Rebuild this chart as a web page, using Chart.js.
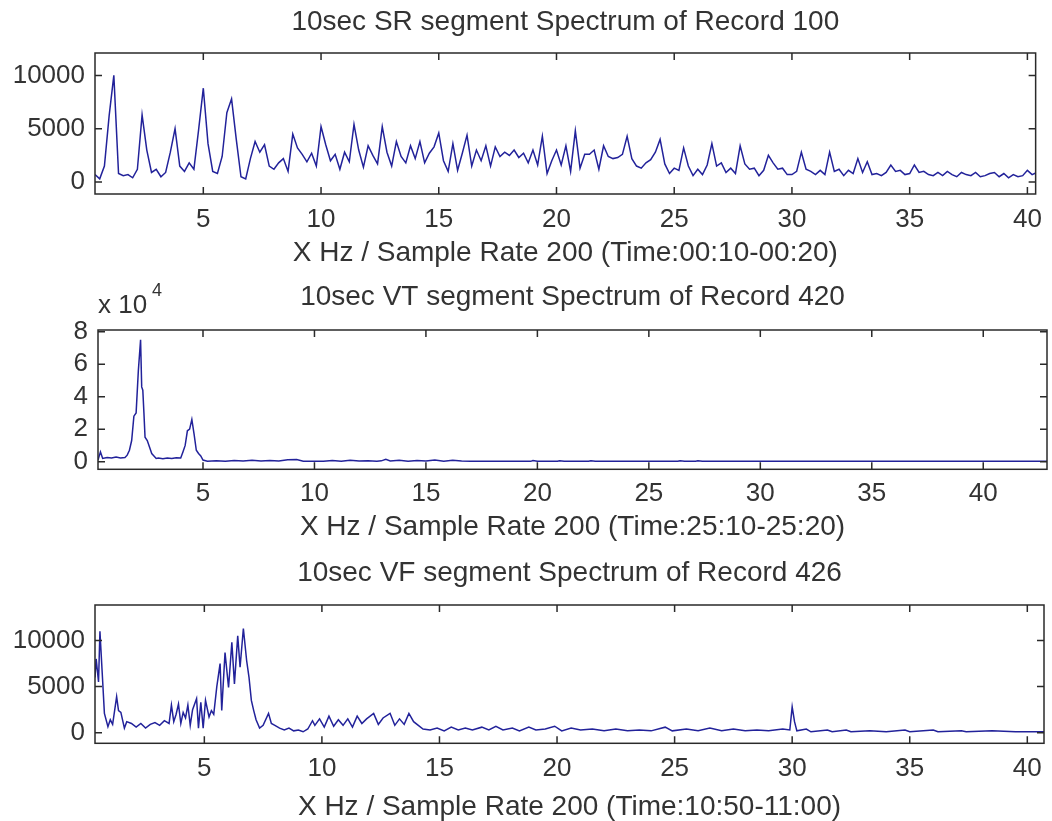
<!DOCTYPE html>
<html lang="en">
<head>
<meta charset="UTF-8">
<title>10sec segment spectra of records 100, 420, 426</title>
<script src="https://cdn.jsdelivr.net/npm/chart.js"></script>
<style>
  body { margin: 0; background: #fff; width: 1052px; height: 821px; position: relative; overflow: hidden; }
  canvas { position: absolute; left: 0; }
</style>
</head>
<body>
<canvas id="srChart" width="1052" height="275" style="top:0px"></canvas>
<canvas id="vtChart" width="1052" height="270" style="top:275px"></canvas>
<canvas id="vfChart" width="1052" height="276" style="top:545px"></canvas>
<script>
// --- data ---
// record 100 (SR): amplitude per 0.2 Hz bin, first bin at 0.4 Hz
const srStartHz = 0.4;
const srStepHz = 0.2;
const srAmp = [
  700, 300, 1500, 6200, 10000, 800, 600, 700, 400, 1200,
  6300, 3000, 900, 1200, 500, 900, 2800, 5000, 1500, 1000,
  1800, 1200, 4900, 8800, 3600, 1000, 800, 2400, 6500, 7800,
  4000, 500, 300, 2200, 3800, 2800, 3500, 1500, 1200, 1800,
  2200, 1000, 4500, 3200, 2600, 1900, 2700, 1500, 5200, 3500,
  2000, 2600, 1200, 2800, 1900, 5400, 3000, 1400, 3400, 2500,
  1700, 5200, 2800, 1500, 3800, 2400, 1800, 3400, 2200, 3800,
  1800, 2700, 3300, 4600, 2000, 1000, 3600, 1100, 2700, 4400,
  1500, 3000, 2000, 3400, 1500, 3300, 2400, 2800, 2500, 3000,
  2300, 2700, 1800, 3000, 1600, 4300, 800, 2000, 3000, 1600,
  3400, 1000, 4800, 1300, 2600, 2600, 3000, 1200, 3400, 2400,
  2200, 2300, 2600, 4300, 2200, 1500, 1300, 1800, 2100, 2800,
  4000, 1700, 800, 1300, 1100, 3200, 1500, 600, 1200, 700,
  1600, 3600, 1500, 1800, 900, 1300, 800, 3400, 1700, 1200,
  1300, 600, 1100, 2500, 1800, 1200, 1300, 700, 700, 1000,
  2800, 1200, 1000, 700, 1100, 700, 2800, 1000, 1200, 600,
  1100, 800, 2200, 900, 1900, 700, 800, 600, 900, 1600,
  1000, 1100, 700, 800, 1600, 900, 1000, 700, 600, 900,
  600, 1000, 700, 500, 900, 700, 600, 900, 500, 600,
  800, 900, 500, 800, 400, 700, 500, 600, 1100, 700,
  900
];

// record 420 (VT)
const vtHz = [
  0.29, 0.4, 0.5, 0.7, 0.9, 1.1, 1.3, 1.5, 1.6, 1.7,
  1.8, 1.9, 2.0, 2.1, 2.2, 2.25, 2.3, 2.35, 2.4, 2.5,
  2.6, 2.7, 2.8, 2.9, 3.0, 3.2, 3.4, 3.6, 3.8, 4.0,
  4.1, 4.2, 4.3, 4.4, 4.5, 4.6, 4.7, 4.8, 4.9, 5.0,
  5.2, 5.6, 6.0, 6.4, 6.8, 7.2, 7.6, 8.0, 8.4, 8.8,
  9.2, 9.5, 10.0, 10.4, 10.8, 11.2, 11.6, 12.0, 12.4, 12.8,
  13.0, 13.2, 13.4, 13.8, 14.2, 14.6, 15.0, 15.4, 15.8, 16.2,
  16.6, 17.0, 19.7, 19.8, 20.0, 20.9, 21.0, 21.2, 22.3, 22.4,
  22.6, 26.3, 26.4, 26.6, 27.1, 27.2, 27.4, 42.9
];
const vtAmp = [
  1000, 6000, 2000, 2600, 2200, 2800, 2300, 2600, 4000, 7000,
  13000, 28000, 30000, 56000, 75000, 46000, 44000, 30000, 15000, 13000,
  9000, 5000, 3500, 2000, 2300, 1800, 2200, 2000, 2400, 2200,
  6000, 10000, 19000, 20000, 26000, 17000, 7000, 5000, 3500, 1000,
  300, 600, 300, 700, 400, 900, 400, 700, 400, 1100,
  1300, 300, 300, 200, 700, 300, 900, 400, 500, 300,
  500, 1400, 400, 800, 300, 700, 400, 1000, 300, 800,
  400, 200, 200, 700, 200, 200, 600, 200, 200, 500,
  200, 200, 500, 200, 200, 500, 200, 200
];

// record 426 (VF)
const vfHz = [
  0.35, 0.4, 0.5, 0.56, 0.65, 0.75, 0.9, 1.0, 1.1, 1.27,
  1.35, 1.45, 1.6, 1.7, 1.9, 2.1, 2.3, 2.5, 2.7, 2.9,
  3.1, 3.3, 3.5, 3.6, 3.7, 3.8, 3.9, 4.0, 4.1, 4.2,
  4.3, 4.4, 4.5, 4.67, 4.75, 4.85, 4.95, 5.05, 5.2, 5.3,
  5.4, 5.53, 5.67, 5.74, 5.88, 6.03, 6.17, 6.28, 6.42, 6.52,
  6.66, 6.8, 6.9, 7.0, 7.1, 7.2, 7.35, 7.5, 7.73, 7.85,
  8.0, 8.2, 8.4, 8.6, 8.8, 9.0, 9.2, 9.4, 9.6, 9.7,
  9.9, 10.1, 10.3, 10.5, 10.7, 10.9, 11.1, 11.3, 11.5, 11.7,
  11.9, 12.2, 12.4, 12.6, 12.9, 13.1, 13.3, 13.5, 13.7, 13.9,
  14.1, 14.3, 14.6, 14.9, 15.2, 15.5, 15.8, 16.1, 16.4, 16.8,
  17.1, 17.4, 17.7, 18.1, 18.4, 18.8, 19.1, 19.5, 19.9, 20.2,
  20.6, 21.0, 21.5, 22.0, 22.5, 23.0, 23.5, 24.0, 24.6, 24.9,
  25.5, 26.0, 26.5, 27.0, 27.5, 28.0, 28.5, 29.0, 29.6, 29.9,
  30.0, 30.1, 30.2, 30.6, 30.8, 31.5, 31.7, 32.3, 32.5, 33.3,
  34.0, 34.8, 35.0, 36.0, 36.2, 37.2, 37.4, 38.5, 39.5, 40.8
];
const vfAmp = [
  6000, 8000, 5500, 11000, 6800, 2100, 650, 1400, 900, 3900,
  2400, 2200, 500, 1200, 1000, 600, 1000, 500, 900, 1100,
  800, 1300, 1000, 3000, 1200, 2000, 3100, 1000, 2200, 1600,
  3000, 800, 2500, 3700, 500, 3300, 500, 3500, 1700, 2400,
  2000, 5000, 7500, 2400, 8700, 4900, 9800, 5300, 10500, 7100,
  11300, 7800, 6000, 3500, 2400, 1400, 500, 800, 2100, 1000,
  800, 500, 300, 500, 200, 300, 100, 400, 1300, 800,
  1500, 600, 1800, 700, 1400, 800, 1500, 600, 1800, 1000,
  1500, 2100, 900, 1600, 2100, 800, 1500, 900, 2100, 1200,
  800, 400, 300, 500, 200, 600, 300, 500, 300, 600,
  300, 700, 300, 500, 200, 600, 300, 400, 700, 200,
  500, 300, 400, 200, 400, 200, 300, 200, 600, 200,
  400, 200, 500, 200, 400, 200, 300, 200, 400, 300,
  2800, 1200, 200, 400, 100, 300, 100, 300, 100, 200,
  100, 300, 100, 300, 100, 200, 100, 200, 100, 100
];

// tick positions
const xTicks = [5, 10, 15, 20, 25, 30, 35, 40];
const yTicksSR = [0, 5000, 10000];
const yTicksVT = [0, 20000, 40000, 60000, 80000];
const yTicksVF = [0, 5000, 10000];

const ink = '#333';
const lineBlue = '#22229a';
Chart.defaults.font.family = '"Liberation Sans", Arial, sans-serif';
Chart.defaults.font.size = 26;
Chart.defaults.color = ink;

// matlab style box with ticks pointing inwards
const boxPlugin = {
  id: 'matlabBox',
  afterDatasetsDraw(chart) {
    const { ctx, chartArea: a, scales: { x, y } } = chart;
    ctx.save();
    ctx.strokeStyle = '#2a2a2a';
    ctx.lineWidth = 1.5;
    ctx.strokeRect(a.left, a.top, a.right - a.left, a.bottom - a.top);
    ctx.beginPath();
    x.ticks.forEach(t => {
      const px = x.getPixelForValue(t.value);
      ctx.moveTo(px, a.bottom); ctx.lineTo(px, a.bottom - 7);
      ctx.moveTo(px, a.top); ctx.lineTo(px, a.top + 7);
    });
    y.ticks.forEach(t => {
      const py = y.getPixelForValue(t.value);
      ctx.moveTo(a.left, py); ctx.lineTo(a.left + 7, py);
      ctx.moveTo(a.right, py); ctx.lineTo(a.right - 7, py);
    });
    ctx.stroke();
    ctx.restore();
  }
};

// "x 10^4" multiplier above the VT axis
const exponentPlugin = {
  id: 'exponent',
  afterDraw(chart) {
    const ctx = chart.ctx;
    ctx.save();
    ctx.fillStyle = ink;
    ctx.textBaseline = 'middle';
    ctx.font = '26px "Liberation Sans", Arial, sans-serif';
    ctx.fillText('x 10', 98, 31);
    ctx.font = '18px "Liberation Sans", Arial, sans-serif';
    ctx.fillText('4', 152, 16);
    ctx.restore();
  }
};

function spectrumChart(id, o) {
  return new Chart(document.getElementById(id), {
    type: 'line',
    data: {
      datasets: [{
        data: o.points,
        borderColor: lineBlue,
        borderWidth: 1.5,
        pointRadius: 0,
        tension: 0,
        fill: false
      }]
    },
    options: {
      responsive: false,
      animation: false,
      events: [],
      layout: { padding: { left: 0, right: o.padRight, top: 0, bottom: 0 } },
      plugins: {
        legend: { display: false },
        tooltip: { enabled: false },
        title: {
          display: true,
          fullSize: false,
          text: o.title,
          color: ink,
          font: { size: 28, weight: 'normal', lineHeight: 1 },
          padding: { top: o.titleTop, bottom: o.titleBottom }
        }
      },
      scales: {
        x: {
          type: 'linear',
          min: o.xMin,
          max: o.xMax,
          afterBuildTicks: s => { s.ticks = xTicks.map(v => ({ value: v })); },
          afterFit: s => { s.height = o.xHeight; },
          grid: { display: false, drawTicks: false },
          border: { display: false },
          ticks: { padding: o.tickPad, color: ink, callback: v => String(v) },
          title: {
            display: true,
            text: o.xTitle,
            color: ink,
            font: { size: 28, lineHeight: 1 },
            padding: { top: 0, bottom: o.xTitleBottom }
          }
        },
        y: {
          type: 'linear',
          min: o.yMin,
          max: o.yMax,
          afterBuildTicks: s => { s.ticks = o.yTicks.map(v => ({ value: v })); },
          afterFit: s => { s.width = o.yWidth; },
          grid: { display: false, drawTicks: false },
          border: { display: false },
          ticks: { padding: 10, color: ink, callback: o.yLabel }
        }
      }
    },
    plugins: o.extra ? [boxPlugin, o.extra] : [boxPlugin]
  });
}

const srPoints = srAmp.map((v, i) => ({ x: srStartHz + i * srStepHz, y: v }));
const vtPoints = vtHz.map((f, i) => ({ x: f, y: vtAmp[i] }));
const vfPoints = vfHz.map((f, i) => ({ x: f, y: vfAmp[i] }));

spectrumChart('srChart', {
  points: srPoints,
  title: '10sec SR segment Spectrum of Record 100',
  xTitle: 'X Hz / Sample Rate 200 (Time:00:10-00:20)',
  xMin: 0.4, xMax: 40.35, yMin: -1120, yMax: 12100,
  yTicks: yTicksSR, yLabel: v => String(v),
  yWidth: 95, padRight: 8, xHeight: 81,
  titleTop: 8, titleBottom: 17, tickPad: 10, xTitleBottom: 8
});

spectrumChart('vtChart', {
  points: vtPoints,
  title: '10sec VT segment Spectrum of Record 420',
  xTitle: 'X Hz / Sample Rate 200 (Time:25:10-25:20)',
  xMin: 0.29, xMax: 42.86, yMin: -4700, yMax: 81000,
  yTicks: yTicksVT, yLabel: v => String(v / 10000),
  yWidth: 98, padRight: 5, xHeight: 75.7,
  titleTop: 8, titleBottom: 19, tickPad: 8.5, xTitleBottom: 4,
  extra: exponentPlugin
});

spectrumChart('vfChart', {
  points: vfPoints,
  title: '10sec VF segment Spectrum of Record 426',
  xTitle: 'X Hz / Sample Rate 200 (Time:10:50-11:00)',
  xMin: 0.35, xMax: 40.71, yMin: -1150, yMax: 13850,
  yTicks: yTicksVF, yLabel: v => String(v),
  yWidth: 95, padRight: 8, xHeight: 77.7,
  titleTop: 14, titleBottom: 18, tickPad: 9.5, xTitleBottom: 0
});
</script>
</body>
</html>
